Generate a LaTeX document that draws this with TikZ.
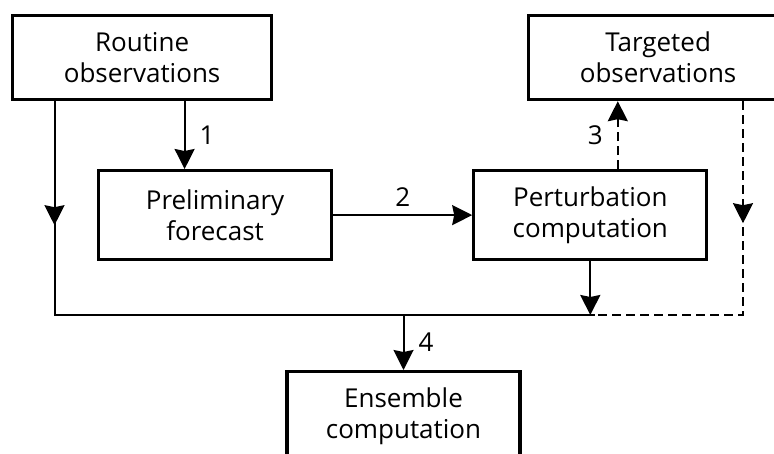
\documentclass[tikz,border=0pt]{standalone}
\usepackage{fontspec}
\setmainfont{Open Sans}
\usepackage{tikz}
\usetikzlibrary{arrows.meta,positioning,calc}

\begin{document}
\begin{tikzpicture}[
  box/.style={rectangle,draw,line width=3.2pt,align=center,
              font=\fontsize{26}{31}\selectfont,minimum width=233pt,minimum height=89pt},
  arr/.style={-{Stealth[length=20pt,width=20pt,inset=2pt]},line width=2pt},
  con/.style={line width=2pt},
  dsh/.style={dash pattern=on 9pt off 5pt},
  lbl/.style={font=\fontsize{26}{31}\selectfont,inner sep=0pt}
]
\useasboundingbox (0,0) rectangle (774pt,-453pt);

% Kaesten
\node[box,minimum width=259pt,minimum height=84pt,anchor=north west] (rout) at (11pt,-14pt) {Routine\\observations};
\node[box,minimum width=259pt,minimum height=84pt,anchor=north west] (targ) at (527pt,-14pt) {Targeted\\observations};
\node[box,anchor=north west] (prel) at (97pt,-169pt) {Preliminary\\forecast};
\node[box,right=139pt of prel] (pert) {Perturbation\\computation};
\node[box,anchor=north] (ens) at (403.5pt,-370pt) {Ensemble\\computation};

% Sammelleitung
\coordinate (busL) at (54.5pt,-315pt);
\coordinate (busR) at (595pt,-315pt);
\coordinate (busD) at (743pt,-315pt);

\draw[con] (rout.south -| busL) -- (busL) -- (busR);
\draw[arr] (rout.south -| busL) -- ++(0,-124pt);
\draw[arr] ([xshift=42.5pt]rout.south) -- node[lbl,right=14pt]{1} ([xshift=42.5pt]rout.south |- prel.north);
\draw[arr] (prel.east) -- node[lbl,above=8pt]{2} (pert.west);
\draw[arr,dsh] ([xshift=27.5pt]pert.north) -- node[lbl,left=14pt]{3} ([xshift=27.5pt]pert.north |- targ.south);
\draw[con,dsh] (targ.south -| busD) -- (busD) -- (busR);
\draw[arr,dsh] (targ.south -| busD) -- ++(0,-122pt);
\draw[arr] (pert.south) -- (pert.south |- busL);
\draw[arr] (ens.north |- busL) -- node[lbl,right=14pt]{4} (ens.north);
\end{tikzpicture}
\end{document}
